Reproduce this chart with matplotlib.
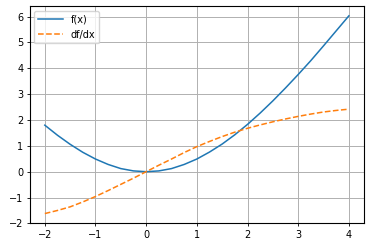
import matplotlib
matplotlib.use("Agg")
import matplotlib.pyplot as plt

x = [-2.0, -1.75, -1.5, -1.25, -1.0, -0.75, -0.5, -0.25, 0.0,
     0.25, 0.5, 0.75, 1.0, 1.25, 1.5, 1.75, 2.0,
     2.25, 2.5, 2.75, 3.0, 3.25, 3.5, 3.75, 4.0]
f_vals = [1.80, 1.41, 1.06, 0.75, 0.49, 0.28, 0.12, 0.03, 0.0,
          0.03, 0.12, 0.28, 0.49, 0.76, 1.07, 1.43, 1.83,
          2.27, 2.74, 3.24, 3.76, 4.30, 4.87, 5.45, 6.03]
df_vals = [-1.62, -1.50, -1.36, -1.17, -0.96, -0.73, -0.49, -0.25, 0.0,
           0.25, 0.49, 0.74, 0.97, 1.17, 1.36, 1.53, 1.68,
           1.81, 1.93, 2.04, 2.14, 2.23, 2.31, 2.37, 2.42]

fig = plt.figure(figsize=(3.70, 2.48), dpi=100)
ax = fig.add_axes([0.08, 0.099, 0.904, 0.877])

ax.plot(x, f_vals, label="f(x)", linewidth=1.1)
ax.plot(x, df_vals, "--", label="df/dx", linewidth=1.1)

ax.tick_params(labelsize=7, length=2.5, width=0.6, pad=2)
ax.legend(loc="upper left", fontsize=7, handlelength=2.5)
ax.grid(True, linewidth=0.7)

plt.savefig("out.png", dpi=100)
